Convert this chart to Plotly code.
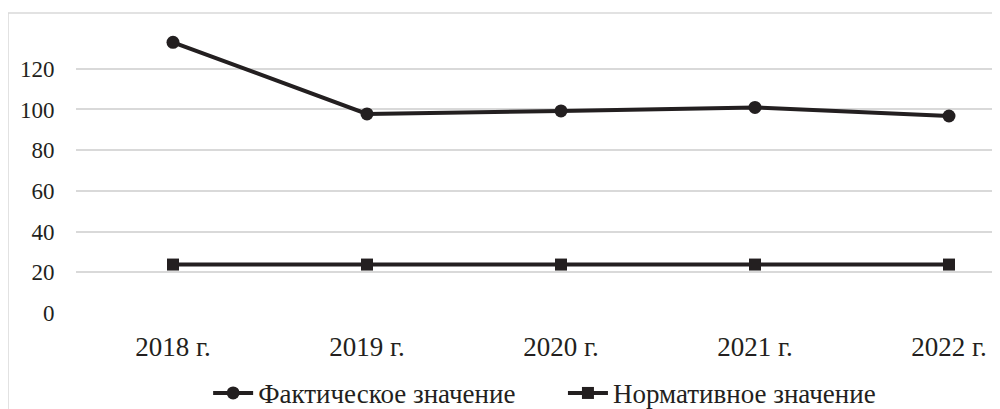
import plotly.graph_objects as go

years = ["2018 г.", "2019 г.", "2020 г.", "2021 г.", "2022 г."]
actual = [133, 97.8, 99.3, 101, 96.8]
normative = [23.8, 23.8, 23.8, 23.8, 23.8]
y_ticks = [0, 20, 40, 60, 80, 100, 120]

line_color = "#231f20"
grid_color = "#d9d9d9"
font_family = "Liberation Serif"
legend_font = dict(size=27, family=font_family, color="#231f20")

fig = go.Figure()
fig.add_trace(go.Scatter(
    x=years, y=actual, name="Фактическое значение",
    mode="lines+markers",
    line=dict(color=line_color, width=4),
    marker=dict(symbol="circle", size=13, color=line_color),
    legend="legend",
))
fig.add_trace(go.Scatter(
    x=years, y=normative, name="Нормативное значение",
    mode="lines+markers",
    line=dict(color=line_color, width=4),
    marker=dict(symbol="square", size=12, color=line_color),
    legend="legend2",
))

fig.update_layout(
    width=1000, height=409,
    margin=dict(l=68, r=8, t=5, b=104, autoexpand=False),
    paper_bgcolor="white", plot_bgcolor="white",
    font=dict(family=font_family, color="#231f20"),
    showlegend=True,
    legend=dict(
        orientation="h", x=0.143, xanchor="left", y=-0.268, yanchor="middle",
        font=legend_font, itemwidth=40, bgcolor="rgba(0,0,0,0)",
    ),
    legend2=dict(
        orientation="h", x=0.527, xanchor="left", y=-0.268, yanchor="middle",
        font=legend_font, itemwidth=40, bgcolor="rgba(0,0,0,0)",
    ),
    xaxis=dict(
        type="category", range=[-0.5, 4.263],
        showgrid=False, zeroline=False, showline=False,
        ticks="outside", ticklen=10, tickcolor="rgba(0,0,0,0)",
        tickfont=dict(size=27, family=font_family, color="#231f20"),
    ),
    yaxis=dict(
        range=[0, 147.4], tickvals=y_ticks,
        showgrid=True, gridcolor=grid_color, gridwidth=1.5,
        zeroline=False, showline=False,
        ticks="outside", ticklen=16, tickcolor="rgba(0,0,0,0)",
        tickfont=dict(size=23, family=font_family, color="#231f20"),
    ),
    shapes=[dict(
        type="rect", xref="paper", yref="paper",
        x0=-0.0736, x1=1.05, y0=-0.6, y1=1.0,
        line=dict(color=grid_color, width=1.5), fillcolor="rgba(0,0,0,0)",
        layer="below",
    )],
)

fig.write_html("out.html")
